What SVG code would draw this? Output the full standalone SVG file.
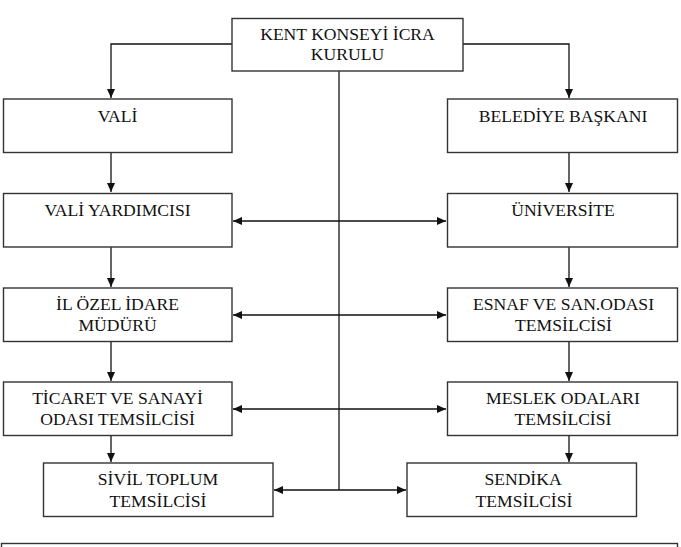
<svg xmlns="http://www.w3.org/2000/svg" width="681" height="547" viewBox="0 0 681 547">
<style>
rect.n{fill:#fff;stroke:#333;stroke-width:1.4}
text{font-family:"Liberation Serif","Times New Roman",serif;font-size:17.6px;fill:#111;text-anchor:middle}
.c{fill:none;stroke:#111;stroke-width:1.3}
</style>
<defs>
<marker id="ah" markerUnits="userSpaceOnUse" markerWidth="10" markerHeight="10" refX="9" refY="4" orient="auto-start-reverse" viewBox="0 0 10 8">
<path d="M0,0 L9,4 L0,8 Z" fill="#111"/>
</marker>
</defs>
<rect width="681" height="547" fill="#fff"/>
<g id="connectors">
<path class="c" d="M232,44 H111 V98" marker-end="url(#ah)"/>
<path class="c" d="M463,44 H569 V98" marker-end="url(#ah)"/>
<path class="c" d="M339,71 V490"/>
<path class="c" d="M111,153 V192" marker-end="url(#ah)"/>
<path class="c" d="M111,247 V287" marker-end="url(#ah)"/>
<path class="c" d="M111,342 V381" marker-end="url(#ah)"/>
<path class="c" d="M111,436 V462" marker-end="url(#ah)"/>
<path class="c" d="M569,153 V192" marker-end="url(#ah)"/>
<path class="c" d="M569,247 V287" marker-end="url(#ah)"/>
<path class="c" d="M569,342 V381" marker-end="url(#ah)"/>
<path class="c" d="M569,436 V462" marker-end="url(#ah)"/>
<path class="c" d="M233,221 H446" marker-start="url(#ah)" marker-end="url(#ah)"/>
<path class="c" d="M233,315 H446" marker-start="url(#ah)" marker-end="url(#ah)"/>
<path class="c" d="M233,409 H446" marker-start="url(#ah)" marker-end="url(#ah)"/>
<path class="c" d="M274,490 H406" marker-start="url(#ah)" marker-end="url(#ah)"/>
</g>
<g id="kent">
<rect class="n" x="232" y="18.5" width="231" height="52.5"/>
<text x="347.5" y="39.5">KENT KONSEYİ İCRA</text>
<text x="347.5" y="60">KURULU</text>
</g>
<g id="vali">
<rect class="n" x="3.5" y="99" width="228.5" height="53.5"/>
<text x="117.5" y="122">VALİ</text>
</g>
<g id="belediye">
<rect class="n" x="447.5" y="99" width="230" height="53.5"/>
<text x="563" y="122">BELEDİYE BAŞKANI</text>
</g>
<g id="valiyard">
<rect class="n" x="3.5" y="193.5" width="228.5" height="53.5"/>
<text x="117.5" y="216">VALİ YARDIMCISI</text>
</g>
<g id="universite">
<rect class="n" x="447.5" y="193.5" width="230" height="53.5"/>
<text x="563" y="216">ÜNİVERSİTE</text>
</g>
<g id="ilozel">
<rect class="n" x="3.5" y="288" width="228.5" height="53.5"/>
<text x="117.5" y="310">İL ÖZEL İDARE</text>
<text x="117.5" y="330.5">MÜDÜRÜ</text>
</g>
<g id="esnaf">
<rect class="n" x="447.5" y="288" width="230" height="53.5"/>
<text x="563.5" y="310">ESNAF VE SAN.ODASI</text>
<text x="563.5" y="330.5">TEMSİLCİSİ</text>
</g>
<g id="ticaret">
<rect class="n" x="3.5" y="382" width="228.5" height="53.5"/>
<text x="117.5" y="404">TİCARET VE SANAYİ</text>
<text x="117.5" y="425">ODASI TEMSİLCİSİ</text>
</g>
<g id="meslek">
<rect class="n" x="447.5" y="382" width="230" height="53.5"/>
<text x="563" y="404">MESLEK ODALARI</text>
<text x="563" y="425">TEMSİLCİSİ</text>
</g>
<g id="sivil">
<rect class="n" x="43.5" y="463" width="229.5" height="53.5"/>
<text x="158" y="485">SİVİL TOPLUM</text>
<text x="158" y="507">TEMSİLCİSİ</text>
</g>
<g id="sendika">
<rect class="n" x="407" y="463" width="229.5" height="53.5"/>
<text x="523" y="485">SENDİKA</text>
<text x="524" y="507">TEMSİLCİSİ</text>
</g>
<g id="bottom">
<rect class="n" x="1.5" y="543.5" width="676" height="20"/>
</g>
</svg>
